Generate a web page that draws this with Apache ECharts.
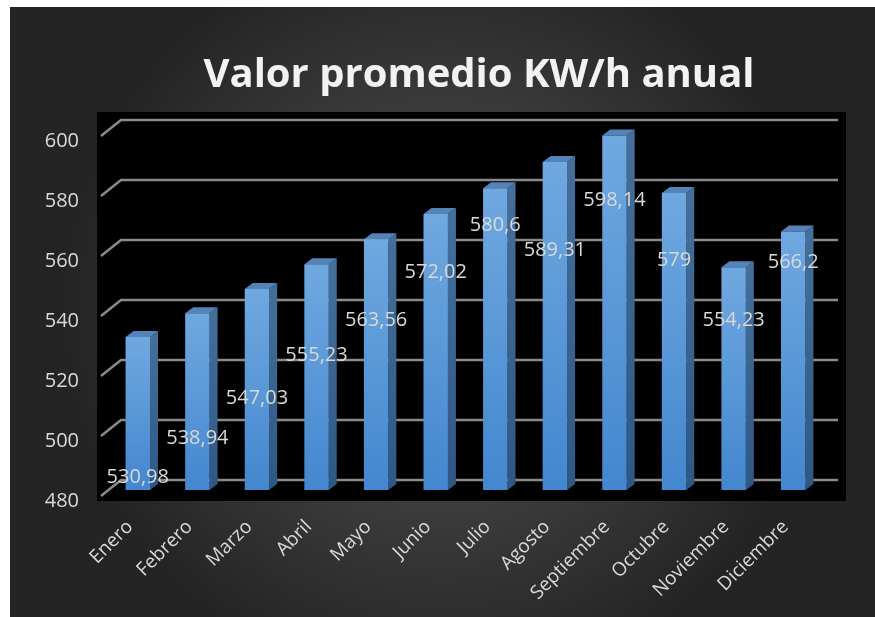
<!doctype html>
<html lang="es">
<head>
<meta charset="UTF-8">
<title>Valor promedio KW/h anual</title>
<script src="https://cdn.jsdelivr.net/npm/echarts@6/dist/echarts.min.js"></script>
<style>
  html, body { margin: 0; padding: 0; background: #fff; }
  #main { width: 875px; height: 617px; }
</style>
</head>
<body>
<div id="main"></div>
<script type="text/javascript">
// datos
var meses = ['Enero', 'Febrero', 'Marzo', 'Abril', 'Mayo', 'Junio', 'Julio',
             'Agosto', 'Septiembre', 'Octubre', 'Noviembre', 'Diciembre'];
var valores = [530.98, 538.94, 547.03, 555.23, 563.56, 572.02, 580.6,
               589.31, 598.14, 579, 554.23, 566.2];
var ticks = [480, 500, 520, 540, 560, 580, 600];

// desplazamiento de cada etiqueta bajo el tope de la barra (px), como en Excel
var bajadaEtiqueta = [140, 125, 109, 91, 81, 58, 37, 88, 65, 67, 53, 31];

var chart = echarts.init(document.getElementById('main'));

function fmt(v) {
    return String(v).replace('.', ',');
}

// columnas con cara frontal, lateral y superior
function barra3d(params, api) {
    var i = api.value(0);
    var v = api.value(1);
    var top = api.coord([i, v]);
    var base = api.coord([i, ticks[0]]);
    var w = api.size([1, 0])[0] * 0.41;
    var dx = 8, dy = 6;
    var x0 = top[0] - w / 2, x1 = top[0] + w / 2;
    var y0 = top[1], y1 = base[1];
    return {
        type: 'group',
        children: [
            {
                type: 'polygon',
                shape: { points: [[x1, y0], [x1 + dx, y0 - dy], [x1 + dx, y1 - dy], [x1, y1]] },
                style: { fill: new echarts.graphic.LinearGradient(0, 0, 0, 1, [
                    { offset: 0, color: '#46709c' }, { offset: 1, color: '#2e5783' }]) }
            },
            {
                type: 'polygon',
                shape: { points: [[x0, y0], [x0 + dx, y0 - dy], [x1 + dx, y0 - dy], [x1, y0]] },
                style: { fill: '#5383b8' }
            },
            {
                type: 'rect',
                shape: { x: x0, y: y0, width: w, height: y1 - y0 },
                style: { fill: new echarts.graphic.LinearGradient(0, 0, 0, 1, [
                    { offset: 0, color: '#70a8e0' }, { offset: 1, color: '#4387cf' }]) }
            },
            {
                type: 'text',
                z2: 10,
                style: {
                    x: top[0], y: y0 + bajadaEtiqueta[i],
                    text: fmt(v),
                    fill: '#d9d9d9',
                    font: '20px "Open Sans", sans-serif',
                    align: 'center', verticalAlign: 'middle'
                }
            }
        ]
    };
}

// lineas de division con el escalón del suelo 3D
function rejilla(params, api) {
    var v = api.value(0);
    var y = api.coord([0, v])[1];
    var cs = params.coordSys;
    return {
        type: 'polyline',
        shape: { points: [[cs.x - 7, y + 6], [cs.x + 13, y - 10], [cs.x + cs.width + 15, y - 10]] },
        style: { stroke: '#8a8a8a', lineWidth: 2.5, fill: null }
    };
}

var option = {
    backgroundColor: '#fff',
    animation: false,
    title: {
        text: 'Valor promedio KW/h anual',
        left: 474,
        top: 51,
        textAlign: 'center',
        textStyle: {
            color: '#f2f2f2',
            fontFamily: 'Open Sans',
            fontWeight: 'bold',
            fontSize: 40
        }
    },
    graphic: [
        {
            type: 'rect',
            z: -10,
            shape: { x: 10, y: 7, width: 865, height: 610 },
            style: {
                fill: new echarts.graphic.RadialGradient(0.5, 0.5, 0.62, [
                    { offset: 0, color: '#555555' },
                    { offset: 1, color: '#242424' }
                ])
            }
        },
        {
            type: 'rect',
            z: -5,
            shape: { x: 97, y: 112, width: 749, height: 389 },
            style: { fill: '#000' }
        }
    ],
    grid: { left: 108, right: 52, top: 130, bottom: 127, containLabel: false },
    xAxis: {
        type: 'category',
        data: meses,
        axisLine: { show: false },
        axisTick: { show: false },
        axisLabel: {
            rotate: 45,
            margin: 26,
            interval: 0,
            color: '#d9d9d9',
            fontFamily: 'Open Sans',
            fontSize: 19,
            formatter: function (m) { return '{m|' + m + '}'; },
            rich: {
                m: { padding: [0, 11, 0, 0], color: '#d9d9d9', fontFamily: 'Open Sans', fontSize: 19 }
            }
        }
    },
    yAxis: {
        type: 'value',
        min: 480,
        max: 600,
        interval: 20,
        axisLine: { show: false },
        axisTick: { show: false },
        splitLine: { show: false },
        axisLabel: {
            margin: 29,
            color: '#d9d9d9',
            fontFamily: 'Open Sans',
            fontSize: 20,
            verticalAlign: 'top',
            lineHeight: 22
        }
    },
    series: [
        {
            type: 'custom',
            z: 1,
            renderItem: rejilla,
            data: ticks.map(function (t) { return [t]; }),
            encode: { y: 0 },
            silent: true
        },
        {
            type: 'custom',
            z: 2,
            renderItem: barra3d,
            data: valores.map(function (v, i) { return [i, v]; }),
            encode: { x: 0, y: 1 }
        }
    ]
};

chart.setOption(option);
</script>
</body>
</html>
